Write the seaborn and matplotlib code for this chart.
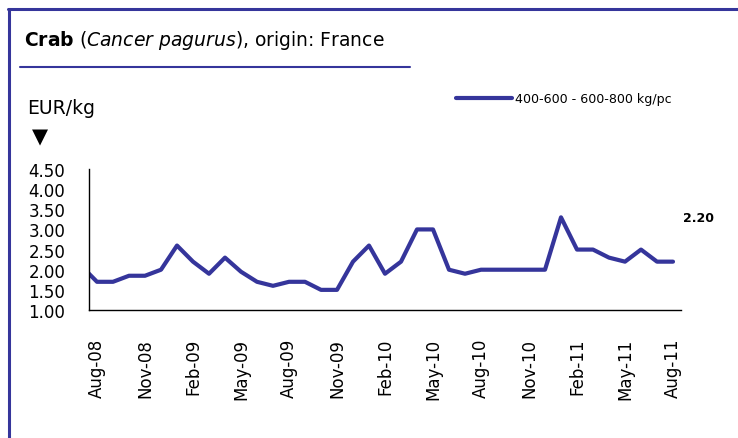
# Crab (Cancer pagurus) price chart, origin France, monthly EUR/kg

import numpy as np
import pandas as pd
import matplotlib.pyplot as plt
import seaborn as sns
from matplotlib.lines import Line2D

# monthly prices Jul-08 .. Aug-11 (Jul-08 only shows as the clipped start of the line)
months = pd.date_range('2008-07-01', '2011-08-01', freq='MS')
prices = [2.1,
          1.7, 1.7, 1.85, 1.85, 2.0, 2.6, 2.2, 1.9, 2.3, 1.95, 1.7, 1.6,
          1.7, 1.7, 1.5, 1.5, 2.2, 2.6, 1.9, 2.2, 3.0, 3.0, 2.0, 1.9,
          2.0, 2.0, 2.0, 2.0, 2.0, 3.3, 2.5, 2.5, 2.3, 2.2, 2.5, 2.2,
          2.2]
tick_labels = ['Aug-08', 'Nov-08', 'Feb-09', 'May-09', 'Aug-09', 'Nov-09', 'Feb-10',
               'May-10', 'Aug-10', 'Nov-10', 'Feb-11', 'May-11', 'Aug-11']
y_ticks = [1.0, 1.5, 2.0, 2.5, 3.0, 3.5, 4.0, 4.5]
series_name = '400-600 - 600-800 kg/pc'

df = pd.DataFrame({'Month': months, 'Price': prices})
df['idx'] = np.arange(len(df)) - 1   # 0 = Aug-08

sns.set_style('white')
plt.rcParams['font.family'] = ['DejaVu Sans']
plt.rcParams['mathtext.fontset'] = 'dejavusans'
plt.rcParams['text.color'] = 'black'
plt.rcParams['xtick.color'] = 'black'
plt.rcParams['ytick.color'] = 'black'

navy = '#35359b'

fig = plt.figure(figsize=(7.38, 4.39), dpi=100)
ax = fig.add_axes([89/738, 1 - 311/439, (681 - 89)/738, (311 - 170)/439])

sns.lineplot(data=df, x='idx', y='Price', ax=ax, color=navy, linewidth=3.0,
             label=series_name)

ax.set_xlim(-0.5, 36.5)
ax.set_ylim(1.0, 4.5)
ax.set_yticks(y_ticks)
ax.set_yticklabels([f'{v:.2f}' for v in y_ticks], fontsize=12)
label_pos = list(range(0, 37, 3))
ax.set_xticks(label_pos)
ax.set_xticklabels(tick_labels, rotation=90, fontsize=12)
ax.set_xticks([p - 0.5 for p in label_pos], minor=True)
ax.tick_params(axis='x', which='major', length=0, pad=20)
ax.tick_params(axis='x', which='minor', length=4, width=1, color='black', direction='out')
ax.tick_params(axis='y', length=5, width=1, color='black', direction='out', pad=12)
ax.set_xlabel('')
ax.set_ylabel('')
for s in ['top', 'right']:
    ax.spines[s].set_visible(False)
for s in ['left', 'bottom']:
    ax.spines[s].set_color('black')
    ax.spines[s].set_linewidth(1)

leg = ax.legend(loc='center left', bbox_to_anchor=(456/738, 1 - 100/439),
                bbox_transform=fig.transFigure, frameon=False, fontsize=9.1,
                borderpad=0, borderaxespad=0, handlelength=4.4, handletextpad=0.3)

# last value label
last = df.iloc[-1]
ax.annotate(f"{last['Price']:.2f}", xy=(last['idx'], last['Price']), xytext=(18, 32),
            textcoords='offset points', ha='center', va='center', fontsize=9,
            fontweight='bold', annotation_clip=False)

# header
fig.text(24/738, 1 - 40/439,
         r'$\mathbf{Crab}$ ($\mathit{Cancer\ pagurus}$), origin: France',
         fontsize=13.5, va='center', ha='left')
fig.add_artist(Line2D([20/738, 410/738], [1 - 68/439, 1 - 68/439], color=navy, lw=1.5))
fig.text(27/738, 1 - 108/439, 'EUR/kg', fontsize=13.5, va='center', ha='left')
fig.text(32/738, 1 - 137/439, '▼', fontsize=15, va='center', ha='left')

# frame lines
fig.add_artist(Line2D([8/738, 1], [1 - 10/439, 1 - 10/439], color=navy, lw=2.2))
fig.add_artist(Line2D([9/738, 9/738], [0, 1 - 10/439], color=navy, lw=2.2))

fig.savefig('out.png', dpi=100)
